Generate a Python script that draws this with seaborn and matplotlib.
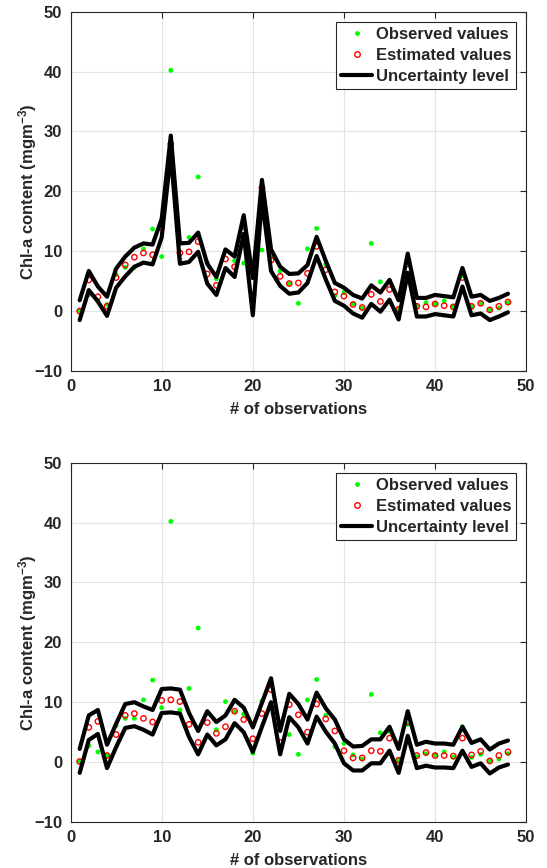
import numpy as np
import matplotlib
matplotlib.use("Agg")
import matplotlib.pyplot as plt
import seaborn as sns
from matplotlib.lines import Line2D

# observation index
obs_n = list(range(1, 49))

# observed Chl-a (same in both panels)
observed = [0.1, 2.7, 1.7, 1.1, 6.1, 7.3, 7.3, 10.4, 13.7, 9.1,
            40.2, 8.7, 12.3, 22.4, 8.1, 5.4, 10.1, 8.4, 8.0, 1.5,
            10.2, 9.1, 6.7, 4.6, 1.3, 10.4, 13.8, 7.8, 2.6, 3.1,
            1.2, 0.5, 11.3, 4.9, 5.1, 0.3, 6.3, 0.9, 1.4, 1.2,
            1.7, 0.8, 5.9, 0.8, 1.3, 0.2, 0.5, 1.4]

# top panel
est_top = [0.0, 5.2, 2.4, 0.8, 5.6, 7.7, 9.0, 9.7, 9.4, 13.9,
           27.9, 9.7, 9.9, 11.6, 6.2, 4.3, 8.7, 7.4, 14.1, 2.7,
           20.6, 8.5, 5.8, 4.6, 4.7, 6.3, 10.8, 6.9, 3.2, 2.5,
           1.1, 0.6, 2.8, 1.6, 3.6, 0.3, 7.9, 0.8, 0.7, 1.2,
           0.9, 0.7, 5.6, 0.8, 1.3, 0.2, 0.8, 1.5]
upper_top = [1.8, 6.7, 4.1, 2.4, 7.1, 9.1, 10.6, 11.3, 11.1, 15.4,
             29.3, 11.3, 11.4, 13.1, 7.9, 5.7, 10.3, 9.1, 16.0, 5.5,
             21.9, 10.3, 7.4, 6.2, 6.3, 7.7, 12.4, 8.4, 4.7, 3.9,
             2.7, 2.1, 4.3, 3.1, 5.2, 1.8, 9.6, 2.2, 2.2, 2.7,
             2.5, 2.3, 7.2, 2.4, 2.7, 1.7, 2.2, 2.9]
lower_top = [-1.5, 3.5, 1.6, -0.8, 3.9, 5.8, 7.4, 8.1, 7.8, 12.3,
             26.3, 7.9, 8.2, 9.9, 4.6, 2.7, 7.2, 5.7, 12.9, -0.7,
             18.7, 6.7, 4.2, 2.9, 3.1, 4.7, 9.2, 5.3, 1.7, 0.9,
             -0.4, -1.1, 1.2, -0.1, 1.9, -1.4, 6.4, -0.9, -0.9, -0.5,
             -0.7, -0.9, 4.1, -0.7, -0.4, -1.5, -0.9, -0.2]

# bottom panel
est_bot = [0.1, 5.8, 6.8, 1.1, 4.6, 7.8, 8.1, 7.3, 6.7, 10.3,
           10.4, 10.1, 6.3, 3.3, 6.6, 4.8, 5.9, 8.5, 7.1, 3.9,
           8.1, 12.1, 3.3, 9.6, 7.9, 5.0, 9.7, 7.2, 5.2, 1.9,
           0.7, 0.7, 1.9, 1.8, 4.0, 0.3, 6.7, 1.1, 1.6, 1.1,
           1.1, 1.0, 4.0, 1.2, 1.8, 0.2, 1.1, 1.7]
upper_bot = [2.2, 7.8, 8.7, 2.9, 6.4, 9.7, 10.0, 9.3, 8.7, 12.2,
             12.3, 12.1, 8.2, 5.2, 8.5, 6.7, 7.8, 10.4, 9.1, 5.8,
             9.9, 14.0, 5.2, 11.4, 9.7, 7.1, 11.6, 9.0, 7.1, 3.8,
             2.6, 2.7, 3.8, 3.8, 5.9, 2.2, 8.5, 2.9, 3.4, 3.1,
             3.1, 2.9, 5.9, 3.2, 3.8, 2.1, 3.1, 3.6]
lower_bot = [-1.8, 3.7, 4.7, -1.0, 2.5, 5.7, 6.0, 5.4, 4.6, 8.2,
             8.3, 8.1, 4.2, 1.3, 4.6, 2.8, 3.8, 6.5, 5.0, 1.7,
             5.9, 10.0, 1.3, 7.5, 5.8, 3.1, 7.6, 5.1, 3.1, -0.2,
             -1.4, -1.4, -0.2, -0.2, 1.9, -1.8, 4.4, -1.0, -0.6, -0.9,
             -0.9, -1.0, 1.9, -0.8, -0.2, -1.9, -0.9, -0.4]

sns.set_style("whitegrid")
plt.rcParams['font.family'] = ['Liberation Sans', 'DejaVu Sans']
plt.rcParams['font.weight'] = 'bold'
plt.rcParams['mathtext.fontset'] = 'custom'
plt.rcParams['mathtext.rm'] = 'Liberation Sans:bold'
plt.rcParams['mathtext.it'] = 'Liberation Sans:bold'
plt.rcParams['mathtext.bf'] = 'Liberation Sans:bold'

fig = plt.figure(figsize=(5.47, 8.68), dpi=100)
ax1 = fig.add_axes([0.129, 0.5726, 0.833, 0.414])
ax2 = fig.add_axes([0.129, 0.053, 0.833, 0.414])


def draw_panel(ax, est, upper, lower):
    sns.scatterplot(x=obs_n, y=observed, ax=ax, color='#00ff00', s=12,
                    edgecolor='none', zorder=2)
    sns.scatterplot(x=obs_n, y=est, ax=ax, marker='o', s=15,
                    facecolor='none', edgecolor='red', linewidth=1.0, zorder=3)
    sns.lineplot(x=obs_n, y=upper, ax=ax, color='black', lw=3, zorder=4)
    sns.lineplot(x=obs_n, y=lower, ax=ax, color='black', lw=3, zorder=4)
    ax.set_xlim(0, 50)
    ax.set_ylim(-10, 50)
    ax.set_xticks(range(0, 51, 10))
    ax.set_yticks(range(-10, 51, 10))
    ax.grid(True, color='#e3e3e3', lw=0.8)
    for s in ax.spines.values():
        s.set_visible(True)
        s.set_color('#262626')
        s.set_linewidth(0.8)
    ax.tick_params(direction='in', top=True, right=True, length=4,
                   labelsize=12, colors='#262626')
    ax.tick_params(axis='x', pad=6)
    ax.tick_params(axis='y', pad=6)
    for lab in ax.get_xticklabels() + ax.get_yticklabels():
        lab.set_fontweight('bold')
    ax.set_xlabel('# of observations', fontsize=12, fontweight='bold')
    ax.set_ylabel(r'Chl-a content (mgm$^{-3}$)', fontsize=12, fontweight='bold')
    ax.xaxis.set_label_coords(0.5, -0.086)
    ax.yaxis.set_label_coords(-0.07, 0.5)
    handles = [
        Line2D([], [], ls='none', marker='o', ms=3.5, color='#00ff00', mec='none'),
        Line2D([], [], ls='none', marker='o', ms=4.0, mfc='none', mec='red', mew=1.0),
        Line2D([], [], color='black', lw=3),
    ]
    leg = ax.legend(handles, ['Observed values', 'Estimated values', 'Uncertainty level'],
                    loc='upper right', fontsize=12, frameon=True, fancybox=False,
                    borderpad=0.3, handlelength=1.9, handletextpad=0.2,
                    labelspacing=0.38, borderaxespad=0.6)
    leg.get_frame().set_edgecolor('#262626')
    leg.get_frame().set_linewidth(0.8)
    leg.get_frame().set_alpha(1)
    for t in leg.get_texts():
        t.set_fontweight('bold')


draw_panel(ax1, est_top, upper_top, lower_top)
draw_panel(ax2, est_bot, upper_bot, lower_bot)

fig.savefig('out.png', dpi=100)
